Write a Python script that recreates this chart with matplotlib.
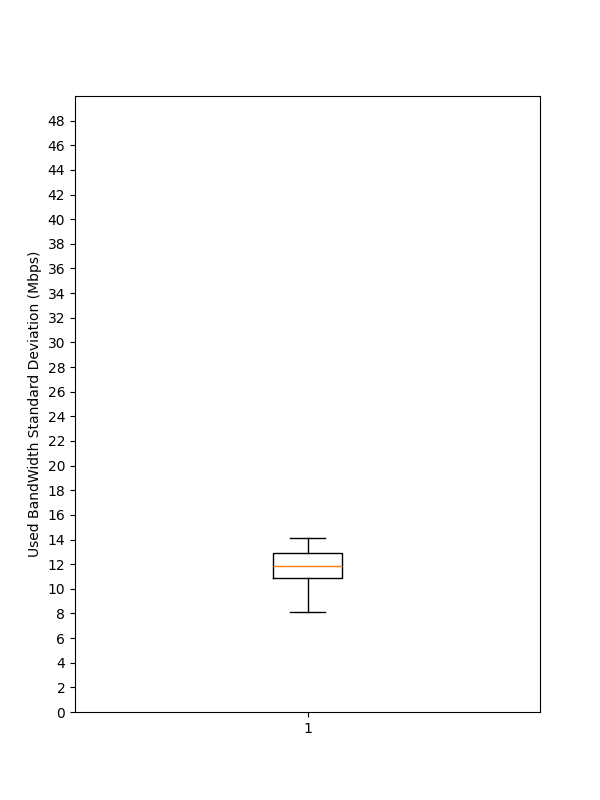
import matplotlib
matplotlib.use("Agg")
import matplotlib.pyplot as plt
import numpy as np

# box statistics (Mbps)
whisker_low = 8.1
q1 = 10.88
median = 11.86
q3 = 12.88
whisker_high = 14.1

stats = [{
    "label": "1",
    "whislo": whisker_low,
    "q1": q1,
    "med": median,
    "q3": q3,
    "whishi": whisker_high,
    "fliers": [],
}]

fig, ax = plt.subplots(figsize=(6, 8), dpi=100)
ax.bxp(stats, showfliers=False)
ax.set_ylim(0, 50)
ax.set_yticks(np.arange(0, 50, 2))
ax.set_ylabel("Used BandWidth Standard Deviation (Mbps)")

fig.savefig("out.png", dpi=100)
